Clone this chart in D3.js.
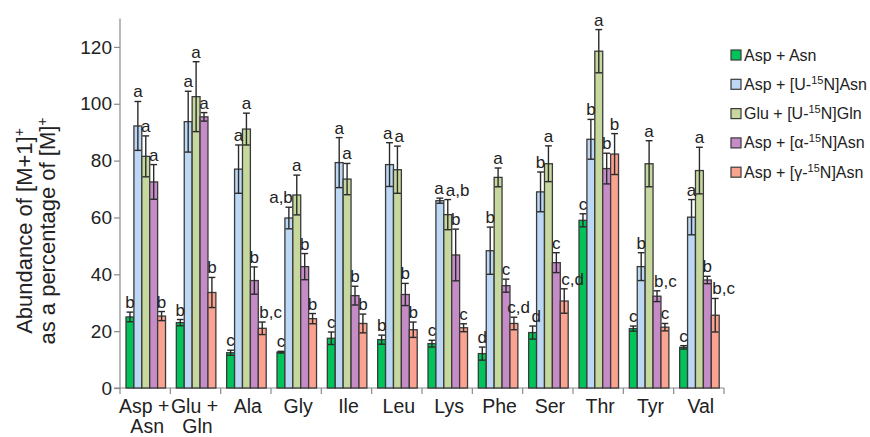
<!DOCTYPE html>
<html>
<head>
<meta charset="utf-8">
<script src="https://cdn.jsdelivr.net/npm/d3@7/dist/d3.min.js"></script>
<style>
  html, body { margin: 0; padding: 0; background: #fff; }
  svg { display: block; font-family: "Liberation Sans", Arial, sans-serif; }
</style>
</head>
<body>
<svg id="chart" width="870" height="437"></svg>
<script>
// Amino acid groups on the x axis ("\n" splits a label over two lines)
const categories = ["Asp +\nAsn", "Glu +\nGln", "Ala", "Gly", "Ile", "Leu", "Lys", "Phe", "Ser", "Thr", "Tyr", "Val"];

// Treatments (legend entries); "^" marks the start of a superscript run
const seriesNames = [
  "Asp + Asn",
  "Asp + [U-^15^N]Asn",
  "Glu + [U-^15^N]Gln",
  "Asp + [α-^15^N]Asn",
  "Asp + [γ-^15^N]Asn"
];
const seriesColors = ["#00c35a", "#bdd8f4", "#c6d89e", "#c58cc7", "#f9a390"];

// Mean abundance (%) and error for each treatment, per group
const aspAsn      = [25.0, 23.0, 12.4, 12.6, 17.5, 17.0, 15.6, 12.1, 19.5, 59.0, 20.9, 14.3];
const aspAsnErr   = [1.7, 1.1, 0.9, 0.3, 2.2, 1.6, 1.2, 2.3, 2.3, 2.3, 0.9, 0.6];
const uAsn        = [92.2, 93.7, 77.0, 59.8, 79.3, 78.6, 65.9, 48.3, 69.0, 87.5, 42.7, 60.1];
const uAsnErr     = [8.6, 10.7, 8.5, 3.8, 8.8, 7.7, 0.9, 8.3, 7.0, 7.0, 4.9, 6.2];
const uGln        = [81.5, 102.5, 91.1, 67.9, 73.5, 76.8, 61.0, 74.1, 78.9, 118.5, 78.9, 76.5];
const uGlnErr     = [7.2, 12.3, 5.6, 7.0, 5.5, 8.3, 5.3, 3.3, 6.3, 7.6, 8.1, 8.2];
const alphaAsn    = [72.5, 95.4, 37.8, 42.7, 32.5, 32.9, 46.8, 36.0, 44.1, 77.2, 32.3, 38.0];
const alphaAsnErr = [6.1, 1.5, 4.8, 4.6, 3.3, 3.9, 9.1, 2.3, 3.5, 5.4, 1.9, 1.3];
const gammaAsn    = [25.3, 33.6, 21.0, 24.4, 22.7, 20.5, 21.2, 22.7, 30.6, 82.3, 21.4, 25.6];
const gammaAsnErr = [1.6, 5.3, 2.2, 1.8, 3.3, 2.7, 1.4, 2.2, 4.3, 7.2, 1.3, 5.9];

// Significance letters for each treatment, per group
const aspAsnSig   = ["b", "b", "c", "c", "c", "b", "c", "d", "d", "c", "c", "c"];
const uAsnSig     = ["a", "a", "a", "a,b", "a", "a", "a", "b", "b", "b", "b", "a"];
const uGlnSig     = ["a", "a", "a", "a", "a", "a", "a,b", "a", "a", "a", "a", "a"];
const alphaAsnSig = ["a", "a", "b", "b", "b", "b", "b", "c", "c", "b", "b,c", "b"];
const gammaAsnSig = ["b", "b", "b,c", "b", "b", "b", "c", "c,d", "c,d", "b", "c", "b,c"];

const yTicks = [0, 20, 40, 60, 80, 100, 120];

const means = [aspAsn, uAsn, uGln, alphaAsn, gammaAsn];
const errs = [aspAsnErr, uAsnErr, uGlnErr, alphaAsnErr, gammaAsnErr];
const sigs = [aspAsnSig, uAsnSig, uGlnSig, alphaAsnSig, gammaAsnSig];

const svg = d3.select("#chart");
const ink = "#222";
const axisGrey = "#8a8a8a";
const outline = "#3a3a3a";

// Scales
const y = d3.scaleLinear().domain([0, 130]).range([388, 18.5]);
const x = d3.scaleBand().domain(categories).range([120, 724]).padding(0);
const xs = d3.scaleBand().domain(d3.range(seriesNames.length))
  .range([6, x.bandwidth() - 4.8]).padding(0);

// Y axis
const yAxis = svg.append("g")
  .attr("transform", `translate(${x.range()[0]},0)`)
  .call(d3.axisLeft(y).tickValues(yTicks).tickSize(6).tickPadding(2));
yAxis.select(".domain").attr("stroke", axisGrey).attr("stroke-width", 1.2)
  .attr("d", `M-6,${y(0)}H0V${y.range()[1]}`);
yAxis.selectAll(".tick line").attr("stroke", axisGrey).attr("stroke-width", 1.2);
yAxis.selectAll(".tick text").attr("fill", ink).attr("font-size", 19)
  .attr("font-family", "Liberation Sans, Arial, sans-serif");

// X axis: baseline, boundary ticks and two-line category labels
const xAxis = svg.append("g")
  .attr("transform", `translate(0,${y(0)})`)
  .call(d3.axisBottom(x).tickSize(0).tickPadding(0).tickFormat(""));
xAxis.select(".domain").attr("stroke", axisGrey).attr("stroke-width", 1.2)
  .attr("d", `M${x.range()[0]},0H${x.range()[1]}`);
const bounds = categories.map(c => x(c)).concat([x.range()[1]]);
xAxis.selectAll("line.bound").data(bounds).join("line")
  .attr("class", "bound")
  .attr("x1", d => d).attr("x2", d => d)
  .attr("y1", 0).attr("y2", 6)
  .attr("stroke", axisGrey).attr("stroke-width", 1.2);
xAxis.selectAll(".tick").each(function(c) {
  const lines = c.split("\n");
  const t = d3.select(this).select("text")
    .attr("fill", ink).attr("font-size", 19.5).attr("y", 0).attr("dy", null)
    .attr("font-family", "Liberation Sans, Arial, sans-serif")
    .text(null);
  lines.forEach((line, i) => {
    // first line of a two-line label keeps a trailing gap before the next group
    const shift = lines.length > 1 && i === 0 ? -1 : 2;
    t.append("tspan").attr("x", shift).attr("y", 25 + i * 20).text(line);
  });
});

// Bars, error bars and letters
const plot = svg.append("g");
const letterLayer = svg.append("g");
const placed = [];

function overlaps(a, b, m) {
  return a.x < b.x + b.width + m && b.x < a.x + a.width + m &&
         a.y < b.y + b.height && b.y < a.y + a.height;
}

categories.forEach((cat, ci) => {
  const g = plot.append("g").attr("transform", `translate(${x(cat)},0)`);
  means.forEach((vals, si) => {
    const bx = xs(si), bw = xs.bandwidth();
    const v = vals[ci], e = errs[si][ci];
    g.append("rect")
      .attr("x", bx).attr("y", y(v))
      .attr("width", bw).attr("height", y(0) - y(v))
      .attr("fill", seriesColors[si])
      .attr("stroke", outline).attr("stroke-width", 1.3);
    const cx = bx + bw / 2, cap = 3.4;
    const eb = g.append("g").attr("stroke", "#2a2a2a").attr("stroke-width", 1.4);
    eb.append("line").attr("x1", cx).attr("x2", cx).attr("y1", y(v - e)).attr("y2", y(v + e));
    eb.append("line").attr("x1", cx - cap).attr("x2", cx + cap).attr("y1", y(v + e)).attr("y2", y(v + e));
    eb.append("line").attr("x1", cx - cap).attr("x2", cx + cap).attr("y1", y(v - e)).attr("y2", y(v - e));

    // letter placement: single letters centred; paired letters lean away from a taller neighbour
    const label = sigs[si][ci];
    let lx = x(cat) + cx, anchor = "middle";
    if (label.length > 1) {
      const nextTop = si < means.length - 1 ? means[si + 1][ci] + errs[si + 1][ci] : -Infinity;
      if (nextTop > v + e) { lx = x(cat) + bx + bw; anchor = "end"; }
      else { lx = x(cat) + bx + 1; anchor = "start"; }
    }
    const t = letterLayer.append("text")
      .attr("x", lx).attr("y", y(v + e) - 4)
      .attr("text-anchor", anchor)
      .attr("font-size", 17).attr("fill", ink)
      .text(label);

    // nudge apart letters that would collide with ones already drawn
    let box = t.node().getBBox();
    for (const p of placed) {
      if (!overlaps(box, p.box, 1.5)) continue;
      const ox = p.box.x + p.box.width + 1.5 - box.x;
      if (ox > 0 && ox <= 9) {
        t.attr("x", +t.attr("x") + ox / 2);
        p.node.attr("x", +p.node.attr("x") - ox / 2);
        p.box = p.node.node().getBBox();
      } else {
        t.attr("y", +t.attr("y") - (box.y + box.height - p.box.y + 1));
      }
      box = t.node().getBBox();
    }
    placed.push({ node: t, box });
  });
});

// Y axis title (two lines, superscript +)
const yTitle = svg.append("text")
  .attr("transform", "translate(32,231) rotate(-90)")
  .attr("text-anchor", "middle")
  .attr("font-size", 22).attr("fill", ink);
const line1 = yTitle.append("tspan").attr("x", 0).attr("y", 0);
line1.append("tspan").text("Abundance of [M+1]");
line1.append("tspan").attr("dy", -8).attr("font-size", 14).text("+");
const line2 = yTitle.append("tspan").attr("x", 0).attr("y", 23);
line2.append("tspan").text("as a percentage of  [M]");
line2.append("tspan").attr("dy", -8).attr("font-size", 14).text("+");

// Legend
const legend = svg.append("g").attr("transform", "translate(731,50)");
seriesNames.forEach((name, i) => {
  const row = legend.append("g").attr("transform", `translate(0,${i * 29.3})`);
  row.append("rect").attr("x", 0).attr("y", 0).attr("width", 10).attr("height", 10)
    .attr("fill", seriesColors[i]).attr("stroke", outline).attr("stroke-width", 1.2);
  const t = row.append("text").attr("x", 13).attr("y", 10.5)
    .attr("font-size", 16).attr("fill", ink);
  name.split("^").forEach((part, k) => {
    if (!part) return;
    const sup = k % 2 === 1;
    const sp = t.append("tspan").text(part);
    if (sup) sp.attr("font-size", 11).attr("dy", -6);
    else if (k > 0) sp.attr("dy", 6);
  });
});
</script>
</body>
</html>
